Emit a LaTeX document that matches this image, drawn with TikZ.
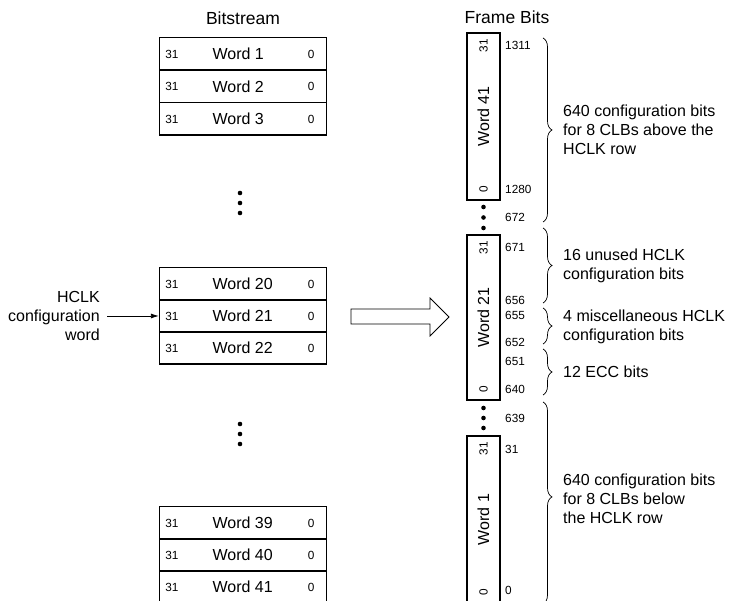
\documentclass[tikz,border=0pt]{standalone}
\usepackage{fontspec}
\setmainfont{Liberation Sans}
\usetikzlibrary{positioning,arrows.meta,decorations.pathreplacing}

\begin{document}
\begin{tikzpicture}[x=1pt,y=-1pt,
			every node/.style={inner sep=0pt,font=\fontsize{16}{19}\selectfont},
			wordrow/.style={draw,line width=1.3pt,minimum width=167pt,minimum height=32.3pt},
			frameword/.style={draw,line width=1.3pt,rotate=90,minimum height=33pt},
			bitnum/.style={font=\fontsize{11.8}{14}\selectfont},
			bitpos/.style={bitnum,anchor=west},
			coltitle/.style={font=\fontsize{17.5}{20}\selectfont},
			note/.style={anchor=west,align=left},
			bracket/.style={decorate,decoration={brace,amplitude=9pt,aspect=#1},line width=0.7pt},
			bracket/.default=0.5,
			>={Latex[length=8pt,width=5pt]}]
			
			\useasboundingbox (0,0) rectangle (732,601);
			\clip (0,0) rectangle (732,601);
			
			% bitstream column
			\node[coltitle] (bstitle) at (243,18) {Bitstream};
			\foreach \n/\y in {1/54,2/86.5,3/119,20/284,21/316,22/348,39/523,40/555,41/587}{
				\node[wordrow] (w\n) at (243,\y) {};
				\node[anchor=west] (w\n-txt) at ([xshift=53.5pt]w\n.west) {Word \n};
				\node[bitnum] (w\n-hi) at ([xshift=13pt]w\n.west) {31};
				\node[bitnum] (w\n-lo) at ([xshift=-16pt]w\n.east) {0};
			}
			\foreach \y in {193,203,213,424,434,444}
				\fill (240,\y) circle (2.3pt);
			
			% HCLK word pointer
			\node[anchor=east,align=right] (hclk) at (100,316) {HCLK\\configuration\\word};
			\draw[->,line width=0.8pt] ([xshift=7pt]hclk.east) -- (w21.west);
			
			% hollow arrow
			\draw[line width=0.8pt] (351,309) -- (430,309) -- (430,298) -- (449,317)
				-- (430,336) -- (430,324) -- (351,324) -- cycle;
			
			% frame bits column
			\node[coltitle] (fbtitle) at (507,17) {Frame Bits};
			\node[frameword,minimum width=167pt] (fw41) at (483.5,116.5) {Word 41};
			\node[frameword,minimum width=165pt] (fw21) at (483.5,317.5) {Word 21};
			\node[frameword,minimum width=167pt] (fw1) at (483.5,519.5) {Word 1};
			\foreach \f in {fw41,fw21,fw1}{
				\node[bitnum,rotate=90] (\f-hi) at ([yshift=-13.5pt]\f.east) {31};
				\node[bitnum,rotate=90] (\f-lo) at ([yshift=11pt]\f.west) {0};
			}
			\foreach \y in {207,217.5,228,408,418,428}
				\fill (483.5,\y) circle (2.3pt);
			
			\foreach \v/\y in {1311/45,1280/189,672/217,671/247,656/300,655/315,
				652/342,651/361,640/389,639/418,31/449,0/590}
				\node[bitpos] (b\v) at (505,\y) {\v};
			
			% braces and their notes
			\draw[bracket] (543,38) -- (543,222);
			\draw[bracket] (543,228) -- (543,303);
			\draw[bracket] (543,308) -- (543,344);
			\draw[bracket] (543,349) -- (543,395);
			\draw[bracket=0.47] (543,402) -- (543,604);
			
			\node[note] (above) at (563,130) {640 configuration bits\\for 8 CLBs above the\\HCLK row};
			\node[note] (unused) at (563,266) {16 unused HCLK\\configuration bits};
			\node[note] (misc) at (563,327) {4 miscellaneous HCLK\\configuration bits};
			\node[note] (ecc) at (563,372) {12 ECC bits};
			\node[note] (below) at (563,499) {640 configuration bits\\for 8 CLBs below\\the HCLK row};
			
		\end{tikzpicture}
\end{document}
